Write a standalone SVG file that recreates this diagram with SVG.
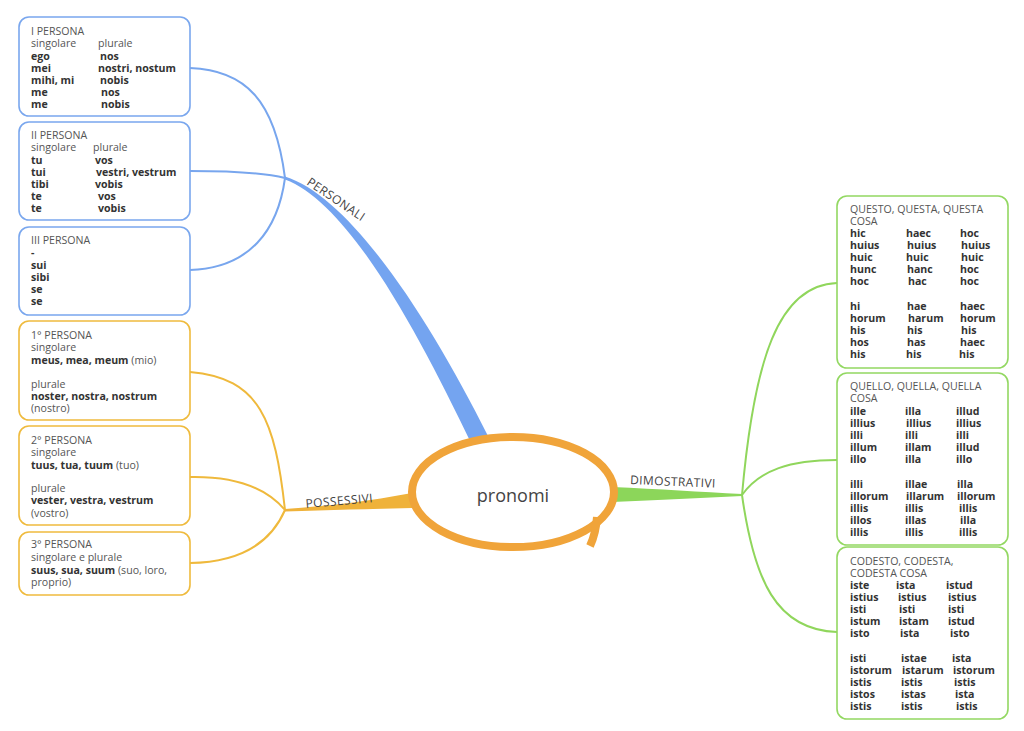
<svg xmlns="http://www.w3.org/2000/svg" width="1024" height="731" viewBox="0 0 1024 731">
<style>
text{font-family:"Open Sans","Liberation Sans",sans-serif;}
.t{font-size:10.6px;fill:#555;}
.b{font-size:10.6px;fill:#333;font-weight:bold;}
.lbl{font-size:12px;fill:#444;letter-spacing:0.4px;}
.bb{fill:#fff;stroke:#7aa7ee;stroke-width:1.6;}
.yb{fill:#fff;stroke:#efbb3e;stroke-width:1.6;}
.gb{fill:#fff;stroke:#93d862;stroke-width:1.6;}
.bl{fill:none;stroke:#78a6ee;stroke-width:2;}
.yl{fill:none;stroke:#efb93c;stroke-width:2;}
.gl{fill:none;stroke:#90d65c;stroke-width:2;}
</style>
<rect width="1024" height="731" fill="#fff"/>
<g id="connectors">
<path class="bl" d="M190,68 C245,70 275,100 285,178"/>
<path class="bl" d="M190,171 C240,171 265,173 285,178"/>
<path class="bl" d="M190,270 C250,268 278,230 285,178"/>
<path d="M285,176.6 C350,197 428,316 488,436 L472,445 C415,326 348,203 285,179.4 Z" fill="#74a4f0"/>
<path class="yl" d="M190,372 C260,378 275,420 285,510"/>
<path class="yl" d="M190,477 C240,476 268,490 285,510"/>
<path class="yl" d="M190,563 C245,562 272,540 285,510"/>
<path d="M285,509 C330,506 370,501 412,493 L412,508 C370,509 330,510 285,511.5 Z" fill="#efb23a"/>
<path class="gl" d="M742,495 C754,360 778,285 837,283"/>
<path class="gl" d="M742,495 C760,470 790,460 837,460"/>
<path class="gl" d="M742,495 C754,580 776,630 837,632"/>
<path d="M612,487 C660,489 700,492 742,494 L742,496 C700,498 660,500 612,502 Z" fill="#8cd65a"/>
<text class="lbl" transform="translate(306,184) rotate(34)">PERSONALI</text>
<text class="lbl" transform="translate(306,508) rotate(-5)">POSSESSIVI</text>
<text class="lbl" transform="translate(630,484) rotate(2.5)">DIMOSTRATIVI</text>
</g>
<g id="center">
<ellipse cx="513" cy="492" rx="101" ry="55" fill="#fff" stroke="#f0a43a" stroke-width="8"/>
<path d="M597,517 Q596,533 590,546" fill="none" stroke="#f0a43a" stroke-width="8"/>
<text x="513" y="502" text-anchor="middle" style="font-size:18px;fill:#444">pronomi</text>
</g>
<g id="n1">
<rect class="bb" x="19" y="17" width="171" height="99" rx="10"/>
<text class="t" x="31" y="35">I PERSONA</text>
<text class="t" x="31" y="47">singolare</text><text class="t" x="98" y="47">plurale</text>
<text class="b" x="31" y="60">ego</text><text class="b" x="100" y="60">nos</text>
<text class="b" x="31" y="72">mei</text><text class="b" x="98" y="72">nostri, nostum</text>
<text class="b" x="31" y="84">mihi, mi</text><text class="b" x="100" y="84">nobis</text>
<text class="b" x="31" y="96">me</text><text class="b" x="101" y="96">nos</text>
<text class="b" x="31" y="108">me</text><text class="b" x="101" y="108">nobis</text>
</g>
<g id="n2">
<rect class="bb" x="19" y="122" width="171" height="98" rx="10"/>
<text class="t" x="31" y="139">II PERSONA</text>
<text class="t" x="31" y="151">singolare</text><text class="t" x="93" y="151">plurale</text>
<text class="b" x="31" y="164">tu</text><text class="b" x="95" y="164">vos</text>
<text class="b" x="31" y="176">tui</text><text class="b" x="96" y="176">vestri, vestrum</text>
<text class="b" x="31" y="188">tibi</text><text class="b" x="95" y="188">vobis</text>
<text class="b" x="31" y="200">te</text><text class="b" x="98" y="200">vos</text>
<text class="b" x="31" y="212">te</text><text class="b" x="98" y="212">vobis</text>
</g>
<g id="n3">
<rect class="bb" x="19" y="227" width="171" height="88" rx="10"/>
<text class="t" x="31" y="244">III PERSONA</text>
<text class="b" x="31" y="256">-</text>
<text class="b" x="31" y="269">sui</text>
<text class="b" x="31" y="281">sibi</text>
<text class="b" x="31" y="293">se</text>
<text class="b" x="31" y="305">se</text>
</g>
<g id="n4">
<rect class="yb" x="19" y="321" width="171" height="99" rx="10"/>
<text class="t" x="31" y="339">1° PERSONA</text>
<text class="t" x="31" y="351">singolare</text>
<text x="31" y="364"><tspan class="b">meus, mea, meum</tspan><tspan class="t"> (mio)</tspan></text>
<text class="t" x="31" y="388">plurale</text>
<text class="b" x="31" y="400">noster, nostra, nostrum</text>
<text class="t" x="31" y="412">(nostro)</text>
</g>
<g id="n5">
<rect class="yb" x="19" y="426" width="171" height="99" rx="10"/>
<text class="t" x="31" y="444">2° PERSONA</text>
<text class="t" x="31" y="456">singolare</text>
<text x="31" y="469"><tspan class="b">tuus, tua, tuum</tspan><tspan class="t"> (tuo)</tspan></text>
<text class="t" x="31" y="492">plurale</text>
<text class="b" x="31" y="504">vester, vestra, vestrum</text>
<text class="t" x="31" y="517">(vostro)</text>
</g>
<g id="n6">
<rect class="yb" x="19" y="532" width="171" height="63" rx="10"/>
<text class="t" x="31" y="548">3° PERSONA</text>
<text class="t" x="31" y="561">singolare e plurale</text>
<text x="31" y="574"><tspan class="b">suus, sua, suum</tspan><tspan class="t"> (suo, loro,</tspan></text>
<text class="t" x="31" y="586">proprio)</text>
</g>
<g id="n7">
<rect class="gb" x="837" y="196" width="171" height="172" rx="10"/>
<text class="t" x="850" y="213">QUESTO, QUESTA, QUESTA</text>
<text class="t" x="850" y="225">COSA</text>
<text class="b" x="850" y="237">hic</text><text class="b" x="906" y="237">haec</text><text class="b" x="960" y="237">hoc</text>
<text class="b" x="850" y="249">huius</text><text class="b" x="907" y="249">huius</text><text class="b" x="961" y="249">huius</text>
<text class="b" x="850" y="261">huic</text><text class="b" x="906" y="261">huic</text><text class="b" x="961" y="261">huic</text>
<text class="b" x="850" y="273">hunc</text><text class="b" x="907" y="273">hanc</text><text class="b" x="960" y="273">hoc</text>
<text class="b" x="850" y="285">hoc</text><text class="b" x="908" y="285">hac</text><text class="b" x="960" y="285">hoc</text>
<text class="b" x="850" y="310">hi</text><text class="b" x="907" y="310">hae</text><text class="b" x="960" y="310">haec</text>
<text class="b" x="850" y="322">horum</text><text class="b" x="908" y="322">harum</text><text class="b" x="960" y="322">horum</text>
<text class="b" x="850" y="334">his</text><text class="b" x="907" y="334">his</text><text class="b" x="961" y="334">his</text>
<text class="b" x="850" y="346">hos</text><text class="b" x="907" y="346">has</text><text class="b" x="960" y="346">haec</text>
<text class="b" x="850" y="358">his</text><text class="b" x="906" y="358">his</text><text class="b" x="959" y="358">his</text>
</g>
<g id="n8">
<rect class="gb" x="837" y="373" width="171" height="172" rx="10"/>
<text class="t" x="850" y="390">QUELLO, QUELLA, QUELLA</text>
<text class="t" x="850" y="402">COSA</text>
<text class="b" x="850" y="415">ille</text><text class="b" x="905" y="415">illa</text><text class="b" x="956" y="415">illud</text>
<text class="b" x="850" y="427">illius</text><text class="b" x="906" y="427">illius</text><text class="b" x="956" y="427">illius</text>
<text class="b" x="850" y="439">illi</text><text class="b" x="905" y="439">illi</text><text class="b" x="956" y="439">illi</text>
<text class="b" x="850" y="451">illum</text><text class="b" x="905" y="451">illam</text><text class="b" x="956" y="451">illud</text>
<text class="b" x="850" y="463">illo</text><text class="b" x="905" y="463">illa</text><text class="b" x="956" y="463">illo</text>
<text class="b" x="850" y="488">illi</text><text class="b" x="905" y="488">illae</text><text class="b" x="957" y="488">illa</text>
<text class="b" x="850" y="500">illorum</text><text class="b" x="906" y="500">illarum</text><text class="b" x="957" y="500">illorum</text>
<text class="b" x="850" y="512">illis</text><text class="b" x="905" y="512">illis</text><text class="b" x="959" y="512">illis</text>
<text class="b" x="850" y="524">illos</text><text class="b" x="905" y="524">illas</text><text class="b" x="960" y="524">illa</text>
<text class="b" x="850" y="536">illis</text><text class="b" x="905" y="536">illis</text><text class="b" x="959" y="536">illis</text>
</g>
<g id="n9">
<rect class="gb" x="837" y="547" width="171" height="172" rx="10"/>
<text class="t" x="850" y="565">CODESTO, CODESTA,</text>
<text class="t" x="850" y="577">CODESTA COSA</text>
<text class="b" x="850" y="589">iste</text><text class="b" x="896" y="589">ista</text><text class="b" x="946" y="589">istud</text>
<text class="b" x="850" y="601">istius</text><text class="b" x="898" y="601">istius</text><text class="b" x="948" y="601">istius</text>
<text class="b" x="850" y="613">isti</text><text class="b" x="899" y="613">isti</text><text class="b" x="948" y="613">isti</text>
<text class="b" x="850" y="625">istum</text><text class="b" x="899" y="625">istam</text><text class="b" x="948" y="625">istud</text>
<text class="b" x="850" y="637">isto</text><text class="b" x="900" y="637">ista</text><text class="b" x="950" y="637">isto</text>
<text class="b" x="850" y="662">isti</text><text class="b" x="901" y="662">istae</text><text class="b" x="952" y="662">ista</text>
<text class="b" x="850" y="674">istorum</text><text class="b" x="902" y="674">istarum</text><text class="b" x="953" y="674">istorum</text>
<text class="b" x="850" y="686">istis</text><text class="b" x="901" y="686">istis</text><text class="b" x="954" y="686">istis</text>
<text class="b" x="850" y="698">istos</text><text class="b" x="901" y="698">istas</text><text class="b" x="955" y="698">ista</text>
<text class="b" x="850" y="710">istis</text><text class="b" x="901" y="710">istis</text><text class="b" x="956" y="710">istis</text>
</g>
</svg>
